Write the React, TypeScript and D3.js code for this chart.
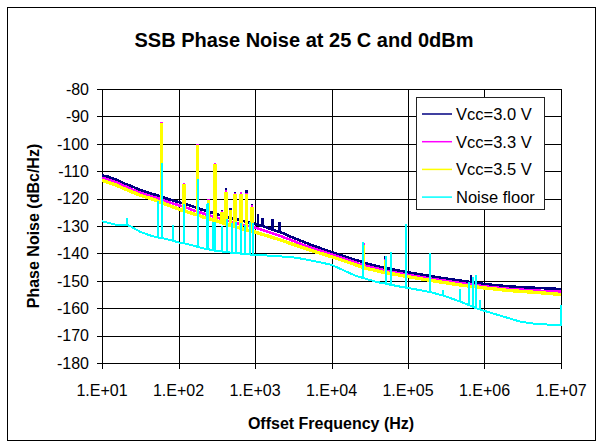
import React from "react";
import * as d3 from "d3";

// x axis (Hz) and y axis (dBc/Hz) ticks
const freqTicks = [1e1, 1e2, 1e3, 1e4, 1e5, 1e6, 1e7];
const freqLabels = ["1.E+01", "1.E+02", "1.E+03", "1.E+04", "1.E+05", "1.E+06", "1.E+07"];
const dbTicks = [-80, -90, -100, -110, -120, -130, -140, -150, -160, -170, -180];

const seriesNames = ["Vcc=3.0 V", "Vcc=3.3 V", "Vcc=3.5 V", "Noise floor"];
const seriesColors = ["#000080", "#ff00ff", "#ffff00", "#00ffff"];

// smooth part of each trace: [freq, dBc/Hz]
const vcc30: [number, number][] = [
  [10, -111.5], [12, -112], [15, -113], [20, -114.6], [25, -115.6], [31, -116.8], [40, -117.8],
  [50, -118.6], [70, -120], [100, -121.3], [140, -122.5], [200, -124], [300, -125.5], [500, -127.2],
  [700, -128.2], [1000, -129.2], [1500, -130.8], [2000, -132], [3000, -134], [5000, -136.5],
  [7000, -138], [10000, -139.5], [15000, -141.2], [20000, -142.3], [30000, -143.8], [50000, -145.3],
  [70000, -146.1], [100000, -146.9], [150000, -147.7], [200000, -148.3], [300000, -149.1],
  [500000, -150], [700000, -150.6], [1e6, -151.2], [2e6, -152], [3e6, -152.3], [5e6, -152.6],
  [7e6, -152.8], [1e7, -153],
];
const vcc33: [number, number][] = [
  [10, -112.4], [15, -113.9], [20, -115.5], [31, -117.8], [50, -119.6], [70, -121], [100, -122.4],
  [200, -125.2], [300, -126.7], [500, -128.5], [1000, -130.6], [2000, -133.3], [5000, -137.6],
  [10000, -140.4], [20000, -143.2], [50000, -146.2], [100000, -147.8], [200000, -149.2],
  [500000, -150.9], [1e6, -152], [2e6, -152.9], [5e6, -153.6], [1e7, -154],
];
const vcc35: [number, number][] = [
  [10, -113.3], [15, -115], [20, -116.5], [31, -118.7], [50, -120.6], [70, -122.2], [100, -123.8],
  [200, -126.5], [300, -128], [500, -130], [1000, -132.2], [2000, -134.8], [5000, -138.6],
  [10000, -141.2], [20000, -144], [50000, -147], [100000, -148.5], [200000, -149.9],
  [500000, -151.6], [1e6, -152.6], [2e6, -153.5], [5e6, -154.3], [1e7, -155],
];
const noiseFloor: [number, number][] = [
  [10, -128.3], [12, -128.8], [15, -129.5], [18, -129.8], [23, -129.9], [26, -130.8], [31, -132],
  [40, -133.2], [50, -134], [70, -134.8], [100, -136], [150, -137], [200, -138], [300, -139],
  [500, -139.8], [700, -140.2], [1000, -140.5], [2000, -141], [3500, -141.6], [5000, -142.4],
  [7000, -143.2], [10000, -144.2], [15000, -146.4], [20000, -148], [26000, -149], [40000, -150.5],
  [60000, -151.5], [100000, -152.6], [200000, -154.2], [300000, -155.5], [500000, -157.8],
  [700000, -159.5], [1e6, -161], [2e6, -163.5], [3e6, -165], [5e6, -165.8], [9.9e6, -166.2],
];

// spurs: [freq, foot, peak]
const vcc30Spurs: [number, number, number][] = [
  [60, -119.3, -93.5], [118, -121.8, -116], [178, -123.5, -101], [245, -124.7, -121],
  [301, -125.5, -108], [370, -126.2, -124], [416, -126.6, -116], [480, -127.1, -123.5],
  [550, -127.4, -117.5], [660, -128, -118.5], [780, -128.5, -117], [910, -128.9, -122],
  [1100, -129.5, -125.5], [1250, -130, -127], [1700, -131.3, -127.5], [2100, -132.1, -128.5],
  [26000, -143.2, -136.5], [51000, -145.3, -141], [670000, -150.5, -148],
];
const vcc33Spurs: [number, number, number][] = [
  [60, -120.3, -92], [118, -123, -114.3], [178, -124.8, -100], [245, -126, -120],
  [301, -126.7, -107], [370, -127.5, -124.5], [416, -127.9, -117], [480, -128.4, -124],
  [550, -128.8, -118], [660, -129.4, -117.6], [780, -129.9, -118], [910, -130.3, -122.5],
  [26000, -144.3, -136.3], [51000, -146.3, -142],
];
const vcc35Spurs: [number, number, number][] = [
  [60, -121.4, -92.3], [118, -124.5, -114.8], [178, -126, -100.5], [245, -127.3, -120.5],
  [301, -128, -107.5], [370, -128.8, -124.8], [416, -129.3, -117.5], [480, -129.8, -124.2],
  [550, -130.2, -118.2], [660, -130.9, -118.2], [780, -131.4, -118.3], [910, -131.9, -123],
  [26000, -145.2, -137], [51000, -147, -142.5],
];
const noiseSpurs: [number, number, number][] = [
  [21, -129.7, -127.2], [54, -134.2, -121], [60, -134.4, -107], [85, -135.4, -129.5],
  [118, -136.3, -122], [178, -137.6, -113], [235, -138.4, -122], [245, -138.5, -121.5],
  [280, -138.8, -128.5], [301, -139, -128.5], [370, -139.3, -130], [425, -139.5, -127.5],
  [500, -139.8, -129], [560, -139.9, -128.5], [660, -140.1, -129], [740, -140.3, -129.5],
  [850, -140.4, -128.5], [930, -140.5, -129], [26000, -149, -136], [51000, -151, -141],
  [60500, -151.5, -139.5], [93000, -152.5, -129.3], [195000, -154.1, -139.8],
  [290000, -155.4, -153.4], [480000, -157.6, -153], [630000, -158.9, -150.5],
  [710000, -159.5, -148.6], [780000, -160, -148], [870000, -160.4, -157], [1e7, -166.2, -159],
];

const merge = (base: [number, number][], spurs: [number, number, number][]) => {
  const pts: { f: number; v: number; k: number }[] = [];
  base.forEach(([f, v]) => pts.push({ f, v, k: 0 }));
  spurs.forEach(([f, foot, peak]) => {
    pts.push({ f, v: foot, k: 1 });
    pts.push({ f, v: peak, k: 2 });
    pts.push({ f, v: foot, k: 3 });
  });
  return pts.sort((a, b) => a.f - b.f || a.k - b.k);
};

const series = [
  merge(vcc30, vcc30Spurs),
  merge(vcc33, vcc33Spurs),
  merge(vcc35, vcc35Spurs),
  merge(noiseFloor, noiseSpurs),
];
const widths = [2.6, 2.6, 3.4, 2];

const W = 601;
const H = 447;
const plot = { left: 102, right: 561, top: 89, bottom: 363 };
const font = "'Liberation Sans', Arial, sans-serif";

export default function App() {
  const x = d3.scaleLog().domain([10, 1e7]).range([plot.left, plot.right]);
  const y = d3.scaleLinear().domain([-180, -80]).range([plot.bottom, plot.top]);
  const line = d3
    .line<{ f: number; v: number }>()
    .x((d) => x(d.f))
    .y((d) => y(d.v));

  return (
    <svg
      width={W}
      height={H}
      style={{ position: "absolute", left: 0, top: 0, background: "#fff" }}
      fontFamily={font}
    >
      <rect x={0} y={0} width={W} height={H} fill="#fff" />
      <rect x={7.5} y={7.5} width={588} height={433} fill="none" stroke="#000" />

      <text x={304} y={47} textAnchor="middle" fontSize={20} fontWeight="bold">
        SSB Phase Noise at 25 C and 0dBm
      </text>

      {/* grid */}
      {dbTicks.map((t) => (
        <line key={"h" + t} x1={plot.left - 5} x2={plot.right} y1={Math.round(y(t)) + 0.5} y2={Math.round(y(t)) + 0.5} stroke="#000" />
      ))}
      {freqTicks.map((t) => (
        <line key={"v" + t} x1={Math.round(x(t)) + 0.5} x2={Math.round(x(t)) + 0.5} y1={plot.top} y2={plot.bottom + 6} stroke="#000" />
      ))}
      <rect
        x={plot.left + 0.5}
        y={plot.top + 0.5}
        width={plot.right - plot.left}
        height={plot.bottom - plot.top}
        fill="none"
        stroke="#000"
      />

      {/* tick labels */}
      {dbTicks.map((t) => (
        <text key={"yl" + t} x={89} y={y(t)} dy="0.36em" textAnchor="end" fontSize={16}>
          {t}
        </text>
      ))}
      {freqTicks.map((t, i) => (
        <text key={"xl" + t} x={x(t)} y={396} textAnchor="middle" fontSize={16}>
          {freqLabels[i]}
        </text>
      ))}

      {/* traces */}
      <g shapeRendering="crispEdges">
        {series.map((s, i) => (
          <path
            key={seriesNames[i]}
            d={line(s) || ""}
            fill="none"
            stroke={seriesColors[i]}
            strokeWidth={widths[i]}
            strokeLinejoin="miter"
            strokeMiterlimit={2}
          />
        ))}
      </g>

      {/* axis titles */}
      <text x={331} y={429} textAnchor="middle" fontSize={16} fontWeight="bold">
        Offset Frequency (Hz)
      </text>
      <text
        transform={`translate(39, ${(plot.top + plot.bottom) / 2}) rotate(-90)`}
        textAnchor="middle"
        fontSize={16}
        fontWeight="bold"
      >
        Phase Noise (dBc/Hz)
      </text>

      {/* legend */}
      <rect x={416.5} y={97.5} width={128} height={112} fill="#fff" stroke="#222" />
      {seriesNames.map((n, i) => (
        <g key={"lg" + n} transform={`translate(0, ${114 + i * 27.7})`}>
          <line x1={422} x2={452} y1={0} y2={0} stroke={seriesColors[i]} strokeWidth={1.5} />
          <text x={456} y={0} dy="0.36em" fontSize={16.5}>
            {n}
          </text>
        </g>
      ))}
    </svg>
  );
}
